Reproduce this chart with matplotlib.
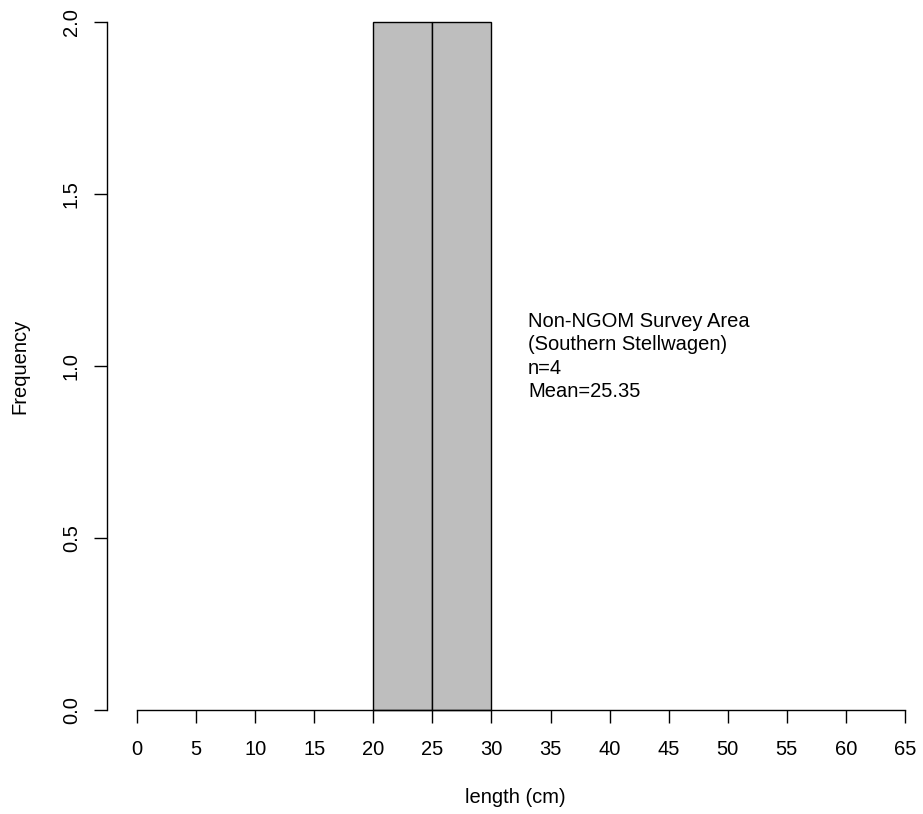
import matplotlib
matplotlib.use("Agg")
import matplotlib.pyplot as plt

plt.rcParams['font.family'] = ['Liberation Sans', 'DejaVu Sans']

bin_edges = [20, 25, 30]
counts = [2, 2]
x_ticks = list(range(0, 70, 5))
y_ticks = [0.0, 0.5, 1.0, 1.5, 2.0]
annotation = "Non-NGOM Survey Area\n(Southern Stellwagen)\nn=4\nMean=25.35"

W, H = 923, 814
fig = plt.figure(figsize=(W / 100, H / 100), dpi=100)

# pixel geometry
px_left, px_right = 107, 923
px_top, px_bottom = 22, 710
x0_px, x65_px = 137, 905
scale = (x65_px - x0_px) / 65.0
xmin = -(x0_px - px_left) / scale
xmax = (px_right - x0_px) / scale

ax = fig.add_axes([px_left / W, (H - px_bottom) / H,
                   (px_right - px_left) / W, (px_bottom - px_top) / H])
ax.set_xlim(xmin, xmax)
ax.set_ylim(0, 2.0)

widths = [bin_edges[i + 1] - bin_edges[i] for i in range(len(counts))]
ax.bar(bin_edges[:-1], counts, width=widths, align='edge',
       color='#BEBEBE', edgecolor='black', linewidth=1.0, clip_on=False)

for s in ['top', 'right']:
    ax.spines[s].set_visible(False)
ax.spines['bottom'].set_bounds(0, 65)
ax.spines['left'].set_bounds(0, 2.0)
for s in ['bottom', 'left']:
    ax.spines[s].set_linewidth(1.0)

fs = 14.5
ax.set_xticks(x_ticks)
ax.set_xticklabels([str(v) for v in x_ticks])
ax.set_yticks(y_ticks)
ax.set_yticklabels([f"{v:.1f}" for v in y_ticks], rotation=90, va='center')
ax.tick_params(axis='both', length=9.4, width=1.0, labelsize=fs)
ax.tick_params(axis='x', pad=12)
ax.tick_params(axis='y', pad=9.5)

ax.set_xlabel("length (cm)", fontsize=fs, labelpad=21)
ax.set_ylabel("Frequency", fontsize=fs, labelpad=23)

ax.text(33.1, 1.157, annotation, fontsize=fs, ha='left', va='top',
        linespacing=1.3)

fig.savefig("out.png", dpi=100)
